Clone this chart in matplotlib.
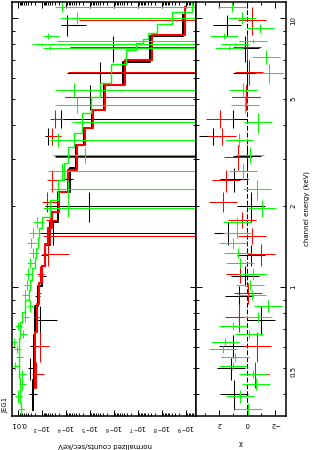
import numpy as np
import matplotlib
matplotlib.use('Agg')
import matplotlib.pyplot as plt
from matplotlib.ticker import (LogLocator, FixedLocator, FuncFormatter,
                               MultipleLocator, NullFormatter)

plt.rcParams['font.family'] = ['DejaVu Sans']
plt.rcParams['font.size'] = 5

# --- data (energies in keV, high -> low) ---
black_edges = [10.29, 8.59, 6.88, 5.65, 4.56, 3.91, 3.38, 2.78, 2.26, 1.75,
               1.436, 1.20, 1.011, 0.852, 0.665, 0.546, 0.452, 0.350]
black_counts = [9.5e-5, 1.1e-6, 3.9e-6, 1.0e-5, 1.68e-4, 5.8e-4, -1e-5, 8.6e-5,
                1.1e-5, 3.6e-4, 8.6e-4, 1.04e-3, 1.67e-3, 1.25e-3, 2.45e-3,
                3.26e-3, 2.7e-3]
black_err = [8.0e-5, 7.0e-5, 9.1e-5, 1.05e-4, 2.0e-4, 2.1e-4, 3.0e-4, 3.5e-5,
             7.7e-4, 9.0e-4, 2.5e-4, 3.0e-4, 4.0e-4, 1.0e-3, 7.0e-4, 8.0e-4,
             1.0e-3]
black_model = [1.35e-9, 3.2e-8, 4.2e-7, 2.7e-6, 8.4e-6, 1.9e-5, 3.9e-5, 7.1e-5,
               2.3e-4, 4.8e-4, 7.8e-4, 1.04e-3, 1.52e-3, 2.1e-3, 2.23e-3,
               2.35e-3, 2.45e-3]
black_chi = [1.40, 0.15, 0.0, 0.10, 1.00, 2.45, 0.0, 0.93, -0.30, 1.38, -0.26,
             0.14, 0.57, -0.98, 1.02, 1.17, 0.93]

red_edges = [11.0, 8.67, 7.00, 5.65, 4.56, 3.91, 3.38, 2.73, 2.26, 1.905, 1.66,
             1.448, 1.20, 1.037, 0.867, 0.682, 0.528, 0.422]
red_counts = [-1e-6, -1e-6, -1e-6, -1e-6, 3.0e-4, 4.0e-4, -1e-6, 4.0e-4,
              6.4e-4, 4.8e-4, 4.8e-4, 5.8e-4, 1.25e-3, 1.52e-3, 1.84e-3,
              1.25e-3, 1.84e-3]
red_err = [3.1e-5, 7.2e-5, 8.7e-5, 1.16e-4, 1.7e-4, 2.4e-4, 3.0e-4, 2.4e-4,
           4.0e-4, 2.5e-4, 5.0e-4, 5.0e-4, 4.0e-4, 4.0e-4, 4.0e-4, 7.0e-4,
           1.0e-3]
red_model = [1.1e-9, 2.6e-8, 3.5e-7, 2.4e-6, 7.6e-6, 1.7e-5, 3.6e-5, 8.6e-5,
             2.0e-4, 4.0e-4, 5.8e-4, 7.8e-4, 1.04e-3, 1.38e-3, 1.75e-3,
             2.02e-3, 2.02e-3]
red_chi = [-0.36, 0.0, -0.15, 0.07, 1.9, 1.8, 0.64, 1.5, 1.74, 0.38, -0.33,
           -0.98, 0.50, -0.10, 0.57, -0.70, -0.57]

green_edges = [11.55, 10.55, 9.52, 8.82, 8.38, 8.13, 7.92, 7.62, 6.76, 5.75,
               5.10, 4.45, 3.75, 3.32, 2.90, 2.51, 2.11, 1.825, 1.66, 1.525,
               1.40, 1.285, 1.18, 1.064, 0.977, 0.897, 0.809, 0.743, 0.694,
               0.648, 0.605, 0.569, 0.528, 0.493, 0.460, 0.415, 0.371, 0.332]
green_counts = [1.5e-4, 3.6e-5, np.nan, 5.8e-4, -1e-5, 1.04e-3, 4.8e-4, np.nan,
                np.nan, 4.9e-5, 3.6e-5, -1e-5, 2.3e-4, 1.7e-5, 1.5e-4, 8.6e-5,
                8.6e-5, 1.67e-3, 2.45e-3, 2.97e-3, 2.45e-3, 3.26e-3, 3.95e-3,
                4.35e-3, 5.3e-3, 3.26e-3, 5.3e-3, 1.03e-2, 6.4e-3, 1.51e-2,
                1.13e-2, 9.35e-3, 1.37e-2, 7.0e-3, 7.0e-3, 1.03e-2, 7.7e-3]
green_err = [1.55e-4, 1.5e-4, np.nan, 3.7e-4, 2.6e-4, 1.7e-3, 5.0e-4, np.nan,
             np.nan, 2.5e-4, 2.6e-4, 6.9e-5, 2.4e-4, 3.4e-4, 4.3e-4, 3.9e-4,
             8.5e-4, 7.8e-4, 1.1e-3, 1.3e-3, 1.1e-3, 1.2e-3, 1.3e-3, 1.4e-3,
             1.6e-3, 1.1e-3, 1.7e-3, 3.0e-3, 2.0e-3, 4.0e-3, 3.5e-3, 3.0e-3,
             4.0e-3, 2.3e-3, 2.3e-3, 3.0e-3, 2.5e-3]
green_model = [5.7e-10, 3.9e-9, 1.63e-8, 3.8e-8, 6.3e-8, 1.23e-7, 1.23e-7,
               3.2e-7, 1.33e-6, 3.9e-6, 9.2e-6, 2.2e-5, 4.9e-5, 8.6e-5, 1.26e-4,
               2.3e-4, 4.8e-4, 1.04e-3, 1.38e-3, 1.52e-3, 1.84e-3, 2.02e-3,
               2.7e-3, 3.26e-3, 3.6e-3, 5.3e-3, 7.0e-3, 8.5e-3, 8.5e-3, 9.35e-3,
               9.35e-3, 9.8e-3, 9.8e-3, 9.35e-3, 8.9e-3, 8.5e-3, 8.1e-3]
green_chi = [1.05, 0.38, -0.93, 1.64, -0.43, 0.88, 1.29, -1.36, -1.57, 0.30,
             0.14, -0.80, 0.57, -0.20, 0.30, -0.70, -1.05, 0.70, 0.74, 1.02,
             0.64, 0.50, -0.45, -0.20, -0.33, -1.50, -0.80, 1.02, -0.14, 1.57,
             1.69, 0.86, 1.02, -0.43, -0.64, 0.50, -0.05]

count_ticks = [1e-2, 1e-3, 1e-4, 1e-5, 1e-6, 1e-7, 1e-8, 1e-9]
energy_labels = {0.5: '0.5', 1: '1', 2: '2', 5: '5', 10: '10'}

fig = plt.figure(figsize=(3.12, 4.5), dpi=100)
ax = fig.add_axes([12 / 312, 34 / 450, 184 / 312, 414.5 / 450])
axr = fig.add_axes([196 / 312, 34 / 450, 90 / 312, 414.5 / 450])

axr.axvline(0, color='k', lw=0.7, dashes=(5, 2), zorder=1)


def draw_set(edges, counts, err, model, chi, color, mlw):
    edges = np.asarray(edges)
    counts = np.asarray(counts, dtype=float)
    err = np.asarray(err, dtype=float)
    chi = np.asarray(chi)
    e_hi, e_lo = edges[:-1], edges[1:]
    mid = 0.5 * (e_hi + e_lo)

    # data: energy bin (vertical) and count error (horizontal)
    seen = np.isfinite(counts)
    pos = seen & (counts > 0)
    ax.vlines(counts[pos], e_lo[pos], e_hi[pos], color=color, lw=0.75)
    up = counts + err
    bar = seen & (up > 0)
    low = np.clip(counts - err, 1e-14, None)
    ax.hlines(mid[bar], low[bar], up[bar], color=color, lw=0.75)

    # folded model as a step line
    ax.plot(np.repeat(model, 2), np.repeat(edges, 2)[1:-1], color=color, lw=mlw)

    # residuals in sigma
    axr.vlines(chi, e_lo, e_hi, color=color, lw=0.75)
    axr.hlines(mid, chi - 1, chi + 1, color=color, lw=0.75)


draw_set(black_edges, black_counts, black_err, black_model, black_chi, 'black', 1.4)
draw_set(red_edges, red_counts, red_err, red_model, red_chi, '#ff0000', 1.5)
draw_set(green_edges, green_counts, green_err, green_model, green_chi, '#00ff00', 1.0)

for a in (ax, axr):
    a.set_yscale('log')
    a.set_ylim(0.332, 11.55)
    a.yaxis.set_major_locator(FixedLocator([1, 10]))
    a.yaxis.set_minor_locator(FixedLocator([0.4, 0.5, 0.6, 0.7, 0.8, 0.9, 2, 3, 4,
                                            5, 6, 7, 8, 9]))
    a.tick_params(which='both', direction='in', top=True, bottom=True,
                  left=True, right=True, width=0.7)
    a.tick_params(which='major', length=4.3)
    a.tick_params(which='minor', length=2.5)
    for s in a.spines.values():
        s.set_linewidth(1.1)

ax.set_xscale('log')
ax.set_xlim(0.0186, 3.9e-10)
ax.xaxis.set_major_locator(FixedLocator(count_ticks))
ax.xaxis.set_minor_locator(LogLocator(base=10, subs=np.arange(2, 10), numticks=100))
ax.xaxis.set_major_formatter(FuncFormatter(
    lambda v, p: '0.01' if v > 5e-3 else '10$^{%d}$' % round(np.log10(v))))
ax.xaxis.set_minor_formatter(NullFormatter())
ax.tick_params(axis='x', which='both', labelrotation=180, pad=3.5)
ax.tick_params(axis='y', which='both', labelleft=False, labelright=False)

axr.set_xlim(3.64, -2.79)
axr.xaxis.set_major_locator(MultipleLocator(2))
axr.xaxis.set_minor_locator(MultipleLocator(1))
axr.tick_params(axis='x', which='both', labelrotation=180, pad=3.5)
ef = FuncFormatter(lambda v, p: energy_labels.get(round(v, 3), ''))
axr.yaxis.set_major_formatter(ef)
axr.yaxis.set_minor_formatter(ef)
axr.tick_params(axis='y', which='both', labelleft=False, labelright=True,
                labelrotation=90, pad=3)

fig.text(105 / 312, 1 - 445 / 450, 'normalized counts/sec/keV', rotation=180,
         ha='center', va='center')
fig.text(241 / 312, 1 - 443 / 450, 'χ', rotation=180, ha='center', va='center')
fig.text(307 / 312, 1 - 208 / 450, 'channel energy (keV)', rotation=90,
         ha='center', va='center')
fig.text(5 / 312, 1 - 405 / 450, 'JEG1', rotation=90, ha='center', va='center')

fig.savefig('out.png', dpi=100)
